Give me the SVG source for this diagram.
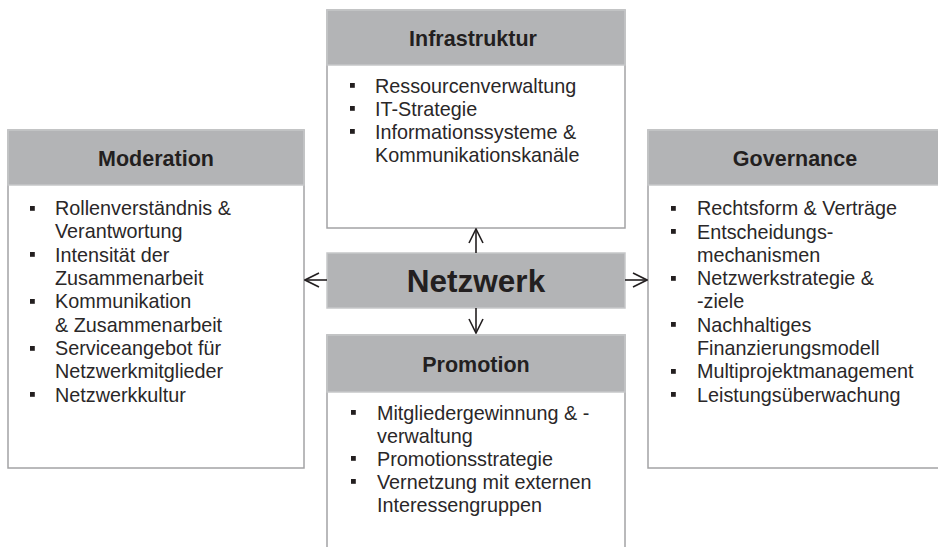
<svg xmlns="http://www.w3.org/2000/svg" width="938" height="547" viewBox="0 0 938 547">
  <style>
    .body { fill: #ffffff; stroke: #a3a3a5; stroke-width: 1.5; }
    .head { fill: #b3b4b6; stroke: #c6c7c9; stroke-width: 1.5; }
    .title { font-family: "Liberation Sans", Arial, sans-serif; font-weight: bold; font-size: 21.5px; fill: #231f20; text-anchor: middle; }
    .core { font-family: "Liberation Sans", Arial, sans-serif; font-weight: bold; font-size: 31.5px; fill: #231f20; text-anchor: middle; }
    .item { font-family: "Liberation Sans", Arial, sans-serif; font-size: 19.8px; fill: #2a2728; }
    .bullet { fill: #231f20; }
    .link { stroke: #231f20; stroke-width: 1.6; fill: none; marker-end: url(#open); }
  </style>
  <defs>
    <marker id="open" viewBox="0 0 16 16" refX="15" refY="8" markerWidth="16" markerHeight="16" markerUnits="userSpaceOnUse" orient="auto">
      <path d="M1,1 L15,8 L1,15" fill="none" stroke="#231f20" stroke-width="1.6"/>
    </marker>
  </defs>

  <rect width="938" height="547" fill="#ffffff"/>

  <!-- Infrastruktur (top) -->
  <g id="infrastruktur">
    <rect class="body" x="327" y="10" width="298" height="218"/>
    <rect class="head" x="327" y="10" width="298" height="55"/>
    <text class="title" x="473" y="46">Infrastruktur</text>
    <rect class="bullet" x="350" y="83" width="4.8" height="4.8"/>
    <text class="item" x="375" y="92.5">Ressourcenverwaltung</text>
    <rect class="bullet" x="350" y="106" width="4.8" height="4.8"/>
    <text class="item" x="375" y="115.5">IT-Strategie</text>
    <rect class="bullet" x="350" y="129" width="4.8" height="4.8"/>
    <text class="item" x="375" y="139">Informationssysteme &amp;</text>
    <text class="item" x="375" y="162">Kommunikationskanäle</text>
  </g>

  <!-- Moderation (left) -->
  <g id="moderation">
    <rect class="body" x="8" y="130" width="296" height="338"/>
    <rect class="head" x="8" y="130" width="296" height="55"/>
    <text class="title" x="156" y="166">Moderation</text>
    <rect class="bullet" x="30" y="206" width="4.8" height="4.8"/>
    <text class="item" x="55" y="215">Rollenverständnis &amp;</text>
    <text class="item" x="55" y="238">Verantwortung</text>
    <rect class="bullet" x="30" y="252" width="4.8" height="4.8"/>
    <text class="item" x="55" y="261.5">Intensität der</text>
    <text class="item" x="55" y="285">Zusammenarbeit</text>
    <rect class="bullet" x="30" y="299" width="4.8" height="4.8"/>
    <text class="item" x="55" y="308">Kommunikation</text>
    <text class="item" x="55" y="331.5">&amp; Zusammenarbeit</text>
    <rect class="bullet" x="30" y="346" width="4.8" height="4.8"/>
    <text class="item" x="55" y="355">Serviceangebot für</text>
    <text class="item" x="55" y="378">Netzwerkmitglieder</text>
    <rect class="bullet" x="30" y="392" width="4.8" height="4.8"/>
    <text class="item" x="55" y="401.5">Netzwerkkultur</text>
  </g>

  <!-- Governance (right) -->
  <g id="governance">
    <rect class="body" x="648" y="130" width="296" height="338"/>
    <rect class="head" x="648" y="130" width="296" height="55"/>
    <text class="title" x="795" y="166">Governance</text>
    <rect class="bullet" x="671" y="206" width="4.8" height="4.8"/>
    <text class="item" x="697" y="215">Rechtsform &amp; Verträge</text>
    <rect class="bullet" x="671" y="229" width="4.8" height="4.8"/>
    <text class="item" x="697" y="238.5">Entscheidungs-</text>
    <text class="item" x="697" y="262">mechanismen</text>
    <rect class="bullet" x="671" y="276" width="4.8" height="4.8"/>
    <text class="item" x="697" y="285">Netzwerkstrategie &amp;</text>
    <text class="item" x="697" y="308">-ziele</text>
    <rect class="bullet" x="671" y="322" width="4.8" height="4.8"/>
    <text class="item" x="697" y="331.5">Nachhaltiges</text>
    <text class="item" x="697" y="355">Finanzierungsmodell</text>
    <rect class="bullet" x="671" y="369" width="4.8" height="4.8"/>
    <text class="item" x="697" y="378">Multiprojektmanagement</text>
    <rect class="bullet" x="671" y="392" width="4.8" height="4.8"/>
    <text class="item" x="697" y="401.5">Leistungsüberwachung</text>
  </g>

  <!-- Promotion (bottom) -->
  <g id="promotion">
    <rect class="body" x="327" y="335" width="298" height="230"/>
    <rect class="head" x="327" y="335" width="298" height="57"/>
    <text class="title" x="476" y="372">Promotion</text>
    <rect class="bullet" x="351" y="410" width="4.8" height="4.8"/>
    <text class="item" x="377" y="419.5">Mitgliedergewinnung &amp; -</text>
    <text class="item" x="377" y="442.5">verwaltung</text>
    <rect class="bullet" x="351" y="456" width="4.8" height="4.8"/>
    <text class="item" x="377" y="466">Promotionsstrategie</text>
    <rect class="bullet" x="351" y="479" width="4.8" height="4.8"/>
    <text class="item" x="377" y="489">Vernetzung mit externen</text>
    <text class="item" x="377" y="512">Interessengruppen</text>
  </g>

  <!-- Netzwerk (centre) -->
  <g id="netzwerk">
    <rect class="head" x="327" y="253" width="298" height="55" stroke="#c0c1c3"/>
    <text class="core" x="476" y="292">Netzwerk</text>
  </g>

  <!-- Connectors from the centre -->
  <g id="connectors">
    <line class="link" x1="476" y1="253" x2="476" y2="229"/>
    <line class="link" x1="476" y1="308" x2="476" y2="333"/>
    <line class="link" x1="327" y1="280" x2="305" y2="280"/>
    <line class="link" x1="625" y1="280" x2="647" y2="280"/>
  </g>
</svg>
